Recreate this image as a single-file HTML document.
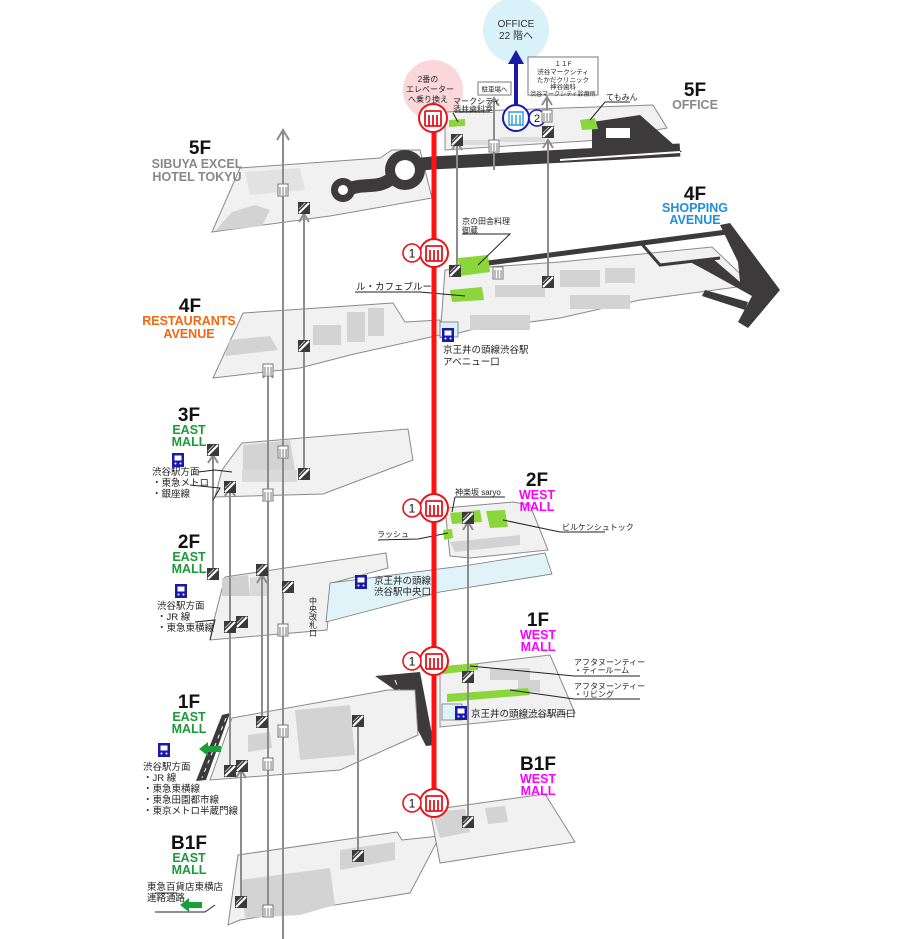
<!DOCTYPE html>
<html><head><meta charset="utf-8"><style>
html,body{margin:0;padding:0;background:#fff;}
svg{display:block;}
text{font-family:"Liberation Sans","Noto Sans CJK JP",sans-serif;}
.fl{font-size:19px;font-weight:bold;fill:#111;}
.sub{font-size:12.5px;font-weight:bold;}
.j{font-size:8px;fill:#222;}
.j2{font-size:9.5px;fill:#222;}
.floor{fill:#f1f1f1;stroke:#8a8a8a;stroke-width:1;}
.blk{fill:#d3d3d3;}
.gl{stroke:#8c8c8c;stroke-width:2;fill:none;}
.ld{stroke:#222;stroke-width:1;fill:none;}
.green{fill:#8bd63a;}
</style></head><body>
<svg width="916" height="939" viewBox="0 0 916 939" xmlns="http://www.w3.org/2000/svg">
<defs>
<g id="esc"><rect x="-6" y="-6" width="12" height="12" fill="#3a3a3a"/><path d="M-5,5 L5,-5" stroke="#fff" stroke-width="2"/><path d="M-5,1 L1,-5" stroke="#bbb" stroke-width="1"/></g>
<g id="elv"><rect x="-5" y="-6" width="10" height="12" fill="#fff" stroke="#777" stroke-width="1"/><path d="M-3,-3 V5 M0,-3 V5 M3,-3 V5" stroke="#777" stroke-width="1"/></g>
<g id="relv"><circle r="14" fill="#fff" stroke="#e8141b" stroke-width="2"/><path d="M-8,-7 H8 M-8,-7 V8 M8,-7 V8 M-4,-3 V8 M0,-3 V8 M4,-3 V8 M-8,8 H8" stroke="#e8141b" stroke-width="1.8" fill="none"/></g>
<g id="one"><circle r="9" fill="#fff" stroke="#e8141b" stroke-width="1.6"/><text y="4.5" text-anchor="middle" font-size="12" fill="#111">1</text></g>
<g id="train"><rect x="-6" y="-7" width="12" height="14" fill="#1a1aa8"/><rect x="-3.5" y="-4.5" width="7" height="5" fill="#fff"/><circle cx="-2.5" cy="3.5" r="1" fill="#fff"/><circle cx="2.5" cy="3.5" r="1" fill="#fff"/></g>
<g id="garrow"><path d="M0,0 L9,-7 V-3 H22 V3 H9 V7 Z" fill="#1aa03a"/></g>
</defs>

<circle cx="516" cy="30" r="33" fill="#d9f1f8"/>
<text x="516" y="27" text-anchor="middle" font-size="10" fill="#333">OFFICE</text>
<text x="516" y="39" text-anchor="middle" font-size="10" fill="#333">22 階へ</text>
<circle cx="433" cy="90" r="30" fill="#fbd7da"/>
<text x="428" y="82" text-anchor="middle" class="j">2番の</text>
<text x="430" y="92" text-anchor="middle" class="j">エレベーター</text>
<text x="428" y="102" text-anchor="middle" class="j">へ乗り換え</text>

<rect x="478" y="82" width="33" height="13" fill="#fff" stroke="#777"/>
<text x="494.5" y="91.5" text-anchor="middle" font-size="6.5" fill="#222">駐車場へ</text>
<rect x="528" y="57" width="70" height="38" fill="#fff" stroke="#777"/>
<text x="563" y="66" text-anchor="middle" font-size="6.5" fill="#222">１１F</text>
<text x="563" y="74" text-anchor="middle" font-size="6.5" fill="#222">渋谷マークシティ</text>
<text x="563" y="82" text-anchor="middle" font-size="6.5" fill="#222">たかだクリニック</text>
<text x="563" y="89" text-anchor="middle" font-size="6.5" fill="#222">神谷歯科</text>
<text x="563" y="96" text-anchor="middle" font-size="6" fill="#222">渋谷マークシティ診療所</text>

<polygon class="floor" points="240,168 380,158 392,150 420,150 432,198 330,216 212,232"/>
<polygon class="blk" points="232,212 255,205 270,210 262,226 215,231"/>
<polygon fill="#e2e2e2" points="245,172 300,168 305,190 250,195"/>
<polygon class="floor" points="445,112 653,105 667,128 600,140 445,150"/>
<rect x="452" y="140" width="45" height="5" fill="#dcdcdc"/>
<rect x="500" y="137" width="45" height="5" fill="#dcdcdc"/>
<path d="M345,190 C365,182 378,190 392,178 C402,166 412,165 432,163 L680,150" stroke="#3c3a3a" stroke-width="13" fill="none"/>
<circle cx="405" cy="170" r="20" fill="#3c3a3a"/><circle cx="405" cy="170" r="10" fill="#fff"/>
<circle cx="343" cy="190" r="12" fill="#3c3a3a"/><circle cx="343" cy="190" r="5" fill="#fff"/>
<path d="M592,122 L640,115 L682,152 L592,150 Z" fill="#3c3a3a"/>
<rect x="606" y="128" width="24" height="10" fill="#fff"/>
<path d="M560,160 L680,152" stroke="#fff" stroke-width="2"/>
<polygon class="green" points="449,120 465,119 465,126 449,127"/>
<polygon class="green" points="580,120 595,118 598,129 582,130"/>

<polygon class="floor" points="445,270 560,262 712,247 752,285 640,300 560,318 470,330 440,338"/>
<rect x="560" y="270" width="40" height="17" class="blk"/><rect x="605" y="268" width="30" height="15" class="blk"/>
<rect x="570" y="295" width="60" height="14" class="blk"/><rect x="470" y="315" width="60" height="15" class="blk"/>
<rect x="495" y="285" width="50" height="12" class="blk"/>
<path d="M450,268 L727,232" stroke="#3c3a3a" stroke-width="5"/>
<path d="M640,242 L660,265 L720,258" stroke="#3c3a3a" stroke-width="3" fill="none"/>
<polygon fill="#3c3a3a" points="720,225 730,223 780,290 748,328 738,322 752,296 705,270 690,262 712,258 740,282 738,262"/>
<polygon fill="#3c3a3a" points="705,290 748,302 745,310 702,296"/>
<polygon class="green" points="458,258 488,255 490,272 460,276"/>
<polygon class="green" points="450,290 482,287 484,300 452,302"/>

<polygon class="floor" points="243,313 393,303 405,322 440,320 440,335 350,355 300,368 213,378"/>
<polygon class="blk" points="230,340 270,336 278,350 225,356"/>
<rect x="347" y="312" width="18" height="30" class="blk"/><rect x="368" y="308" width="16" height="28" class="blk"/><rect x="313" y="325" width="28" height="20" class="blk"/>
<rect x="440" y="322" width="18" height="15" fill="#d9f1f8" stroke="#777" stroke-width=".8"/>

<polygon class="floor" points="242,443 408,429 413,460 323,494 215,497 222,470"/>
<polygon class="blk" points="243,445 290,440 295,470 243,478"/>
<rect x="242" y="470" width="55" height="12" fill="#dadada"/>

<polygon class="floor" points="225,577 386,553 388,568 332,583 327,630 210,640 214,620"/>
<polygon fill="#d0d0d0" points="222,578 248,575 250,596 222,596"/>
<polygon fill="#dadada" points="250,578 268,575 268,596 250,596"/>
<polygon fill="#dff3f8" stroke="#777" stroke-width=".8" points="330,583 470,565 545,553 552,574 440,592 326,622"/>

<polygon class="floor" points="445,508 513,502 530,505 548,550 470,558 450,556"/>
<polygon class="blk" points="450,542 520,535 520,545 455,552"/>
<polygon class="green" points="450,513 480,510 482,522 452,524"/>
<polygon class="green" points="486,511 505,510 508,527 490,528"/>
<polygon class="green" points="443,530 452,529 453,538 444,540"/>

<polygon class="floor" points="440,668 550,655 575,713 440,727"/>
<rect x="490" y="668" width="40" height="12" class="blk"/><rect x="518" y="680" width="22" height="12" class="blk"/>
<rect x="442" y="704" width="20" height="16" fill="#dff3f8" stroke="#777" stroke-width=".8"/>
<polygon class="green" points="443,666 478,663 478,670 443,674"/>
<polygon class="green" points="447,694 528,688 530,695 447,702"/>
<polygon fill="#3c3a3a" points="375,676 420,672 434,745 426,746 405,705 395,690"/>
<path d="M395,680 L420,740" stroke="#fff" stroke-width="1" stroke-dasharray="5,5"/>

<polygon class="floor" points="232,718 388,690 415,690 418,735 340,770 210,780"/>
<polygon class="blk" points="295,710 350,705 355,755 300,760"/>
<polygon class="blk" points="248,735 270,732 272,748 248,752"/>
<polygon fill="#3c3a3a" points="222,715 230,713 206,780 196,781"/>
<path d="M226,718 L202,778" stroke="#fff" stroke-width="1" stroke-dasharray="4,5"/>

<polygon class="floor" points="238,855 397,832 402,840 440,836 410,893 240,920 228,925"/>
<polygon class="blk" points="240,880 330,868 335,905 300,915 245,918"/>
<polygon class="blk" points="340,850 395,842 395,860 340,870"/>
<polygon class="floor" points="430,810 545,794 575,842 440,863"/>
<polygon class="blk" points="432,812 465,809 470,832 440,838"/>
<polygon class="blk" points="485,808 505,806 508,822 488,824"/>

<g class="gl">
<path d="M283,940 V132"/><path d="M277,140 L283,130 L289,140"/>
<path d="M304,470 V214"/><path d="M299,222 L304,214 L309,222"/>
<path d="M268,912 V370"/><path d="M263,378 L268,370 L273,378"/>
<path d="M213,578 V455"/><path d="M208,463 L213,455 L218,463"/>
<path d="M230,770 V488"/><path d="M225,496 L230,488 L235,496"/>
<path d="M262,720 V575"/><path d="M257,583 L262,575 L267,583"/>
<path d="M241,905 V770"/><path d="M236,778 L241,770 L246,778"/>
<path d="M358,855 V718"/><path d="M353,726 L358,718 L363,726"/>
<path d="M468,820 V522"/><path d="M463,530 L468,522 L473,530"/>
<path d="M457,270 V142"/><path d="M452,150 L457,142 L462,150"/>
<path d="M494,170 V98"/><path d="M489,106 L494,98 L499,106"/>
<path d="M548,285 V140"/><path d="M543,148 L548,140 L553,148"/>
<path d="M547,120 V97"/><path d="M542,105 L547,97 L552,105"/>
</g>

<g class="ld">
<path d="M453,113 L458,122"/><path d="M455,112 L490,112"/>
<path d="M605,102 L630,102 M605,102 L590,120"/>
<path d="M462,234 L510,234 L478,265"/>
<path d="M355,292 L420,292 L465,296"/>
<path d="M455,497 L505,497 M455,497 L452,512"/>
<path d="M560,532 L605,532 M560,532 L503,520"/>
<path d="M378,540 L418,539 L448,533"/>
<path d="M574,676 L640,676 M574,676 L470,666"/>
<path d="M574,699 L640,699 M574,699 L510,690"/>
<path d="M198,472 L215,470 L232,472 M190,485 L220,488 L213,500"/>
<path d="M195,622 L215,620 L210,640"/>
<path d="M155,893 L177,893 M155,912 L205,912 L215,905"/>
</g>

<path d="M516,105 V62" stroke="#1a1aa8" stroke-width="4"/>
<polygon points="508,64 516,50 524,64" fill="#1a1aa8"/>
<circle cx="516" cy="118" r="13" fill="#fff" stroke="#1a1aa8" stroke-width="2"/>
<path d="M509,112 H523 V125 H509 Z M512,115 V125 M516,115 V125 M520,115 V125" stroke="#2a9be0" stroke-width="1.4" fill="none"/>
<circle cx="537" cy="118" r="8" fill="#fff" stroke="#1a1aa8" stroke-width="1.6"/>
<text x="537" y="122" text-anchor="middle" font-size="11" fill="#111">2</text>

<path d="M434,790 V112" stroke="#f11" stroke-width="5"/>
<polygon points="427,113 434,102 441,113" fill="#f11"/>
<use href="#relv" x="433" y="118"/>
<use href="#relv" x="434" y="253"/><use href="#one" x="412" y="253"/>
<use href="#relv" x="434" y="508"/><use href="#one" x="412" y="508"/>
<use href="#relv" x="434" y="661"/><use href="#one" x="412" y="661"/>
<use href="#relv" x="434" y="803"/><use href="#one" x="412" y="803"/>

<use href="#esc" x="457" y="140"/><use href="#esc" x="548" y="132"/>
<use href="#esc" x="304" y="208"/><use href="#esc" x="455" y="271"/><use href="#esc" x="548" y="282"/>
<use href="#esc" x="304" y="346"/>
<use href="#esc" x="213" y="450"/><use href="#esc" x="230" y="487"/><use href="#esc" x="304" y="474"/>
<use href="#esc" x="468" y="518"/>
<use href="#esc" x="213" y="574"/><use href="#esc" x="262" y="570"/><use href="#esc" x="288" y="587"/>
<use href="#esc" x="230" y="627"/><use href="#esc" x="242" y="622"/>
<use href="#esc" x="468" y="677"/>
<use href="#esc" x="262" y="722"/><use href="#esc" x="358" y="721"/>
<use href="#esc" x="230" y="771"/><use href="#esc" x="242" y="766"/>
<use href="#esc" x="468" y="822"/><use href="#esc" x="358" y="856"/><use href="#esc" x="241" y="902"/>
<use href="#elv" x="494" y="146"/><use href="#elv" x="547" y="116"/>
<use href="#elv" x="283" y="190"/><use href="#elv" x="498" y="273"/>
<use href="#elv" x="268" y="370"/><use href="#elv" x="283" y="452"/><use href="#elv" x="268" y="495"/>
<use href="#elv" x="283" y="630"/><use href="#elv" x="283" y="731"/><use href="#elv" x="268" y="764"/>
<use href="#elv" x="268" y="911"/>

<use href="#train" x="448" y="335"/><use href="#train" x="178" y="460"/><use href="#train" x="181" y="591"/>
<use href="#train" x="361" y="582"/><use href="#train" x="461" y="713"/><use href="#train" x="164" y="750"/>
<use href="#garrow" x="199" y="749"/><use href="#garrow" x="180" y="905"/>

<text x="200" y="154" text-anchor="middle" class="fl">5F</text>
<text x="197" y="168" text-anchor="middle" class="sub" fill="#888" font-size="12">SIBUYA EXCEL</text>
<text x="197" y="181" text-anchor="middle" class="sub" fill="#888" font-size="12">HOTEL TOKYU</text>
<text x="695" y="96" text-anchor="middle" class="fl">5F</text>
<text x="695" y="109" text-anchor="middle" class="sub" fill="#888">OFFICE</text>
<text x="695" y="200" text-anchor="middle" class="fl">4F</text>
<text x="695" y="212" text-anchor="middle" class="sub" fill="#1e8fe0">SHOPPING</text>
<text x="695" y="224" text-anchor="middle" class="sub" fill="#1e8fe0">AVENUE</text>
<text x="190" y="312" text-anchor="middle" class="fl">4F</text>
<text x="189" y="325" text-anchor="middle" class="sub" fill="#f5660f">RESTAURANTS</text>
<text x="189" y="338" text-anchor="middle" class="sub" fill="#f5660f">AVENUE</text>
<text x="189" y="421" text-anchor="middle" class="fl">3F</text>
<text x="189" y="434" text-anchor="middle" class="sub" fill="#1a9a3a">EAST</text>
<text x="189" y="446" text-anchor="middle" class="sub" fill="#1a9a3a">MALL</text>
<text x="189" y="548" text-anchor="middle" class="fl">2F</text>
<text x="189" y="561" text-anchor="middle" class="sub" fill="#1a9a3a">EAST</text>
<text x="189" y="573" text-anchor="middle" class="sub" fill="#1a9a3a">MALL</text>
<text x="189" y="708" text-anchor="middle" class="fl">1F</text>
<text x="189" y="721" text-anchor="middle" class="sub" fill="#1a9a3a">EAST</text>
<text x="189" y="733" text-anchor="middle" class="sub" fill="#1a9a3a">MALL</text>
<text x="189" y="849" text-anchor="middle" class="fl">B1F</text>
<text x="189" y="862" text-anchor="middle" class="sub" fill="#1a9a3a">EAST</text>
<text x="189" y="874" text-anchor="middle" class="sub" fill="#1a9a3a">MALL</text>
<text x="537" y="486" text-anchor="middle" class="fl">2F</text>
<text x="537" y="499" text-anchor="middle" class="sub" fill="#f0f">WEST</text>
<text x="537" y="511" text-anchor="middle" class="sub" fill="#f0f">MALL</text>
<text x="538" y="626" text-anchor="middle" class="fl">1F</text>
<text x="538" y="639" text-anchor="middle" class="sub" fill="#f0f">WEST</text>
<text x="538" y="651" text-anchor="middle" class="sub" fill="#f0f">MALL</text>
<text x="538" y="770" text-anchor="middle" class="fl">B1F</text>
<text x="538" y="783" text-anchor="middle" class="sub" fill="#f0f">WEST</text>
<text x="538" y="795" text-anchor="middle" class="sub" fill="#f0f">MALL</text>

<text x="453" y="104" class="j" font-size="7">マークシティ</text>
<text x="453" y="112" class="j" font-size="7">酒井歯科室</text>
<text x="606" y="100" class="j" font-size="7">てもみん</text>
<text x="462" y="224" class="j" font-size="7.5">京の田舎料理</text>
<text x="462" y="233" class="j" font-size="7.5">御蔵</text>
<text x="356" y="290" class="j2" font-size="8.5">ル・カフェブルー</text>
<text x="443" y="353" class="j2">京王井の頭線渋谷駅</text>
<text x="443" y="365" class="j2">アベニュー口</text>
<text x="152" y="475" class="j2" font-size="8.5">渋谷駅方面</text>
<text x="152" y="486" class="j2" font-size="8.5">・東急メトロ</text>
<text x="152" y="497" class="j2" font-size="8.5">・銀座線</text>
<text x="455" y="495" class="j" font-size="7.5">神楽坂 saryo</text>
<text x="562" y="530" class="j" font-size="8">ビルケンシュトック</text>
<text x="377" y="537" class="j" font-size="8">ラッシュ</text>
<text x="374" y="584" class="j2">京王井の頭線</text>
<text x="374" y="595" class="j2">渋谷駅中央口</text>
<text x="313" y="597" class="j" font-size="8" writing-mode="tb">中央改札口</text>
<text x="157" y="609" class="j2" font-size="8.5">渋谷駅方面</text>
<text x="157" y="620" class="j2" font-size="8.5">・JR 線</text>
<text x="157" y="631" class="j2" font-size="8.5">・東急東横線</text>
<text x="574" y="665" class="j" font-size="7">アフタヌーンティー</text>
<text x="574" y="673" class="j" font-size="7">・ティールーム</text>
<text x="574" y="689" class="j" font-size="7">アフタヌーンティー</text>
<text x="574" y="697" class="j" font-size="7">・リビング</text>
<text x="471" y="717" class="j2" font-size="8.5">京王井の頭線渋谷駅西口</text>
<text x="143" y="770" class="j2" font-size="8.5">渋谷駅方面</text>
<text x="143" y="781" class="j2" font-size="8.5">・JR 線</text>
<text x="143" y="792" class="j2" font-size="8.5">・東急東横線</text>
<text x="143" y="803" class="j2" font-size="8.5">・東急田園都市線</text>
<text x="143" y="814" class="j2" font-size="8.5">・東京メトロ半蔵門線</text>
<text x="147" y="890" class="j2" font-size="8.5">東急百貨店東横店</text>
<text x="147" y="901" class="j2" font-size="8.5">連絡通路</text>
</svg>
</body></html>
